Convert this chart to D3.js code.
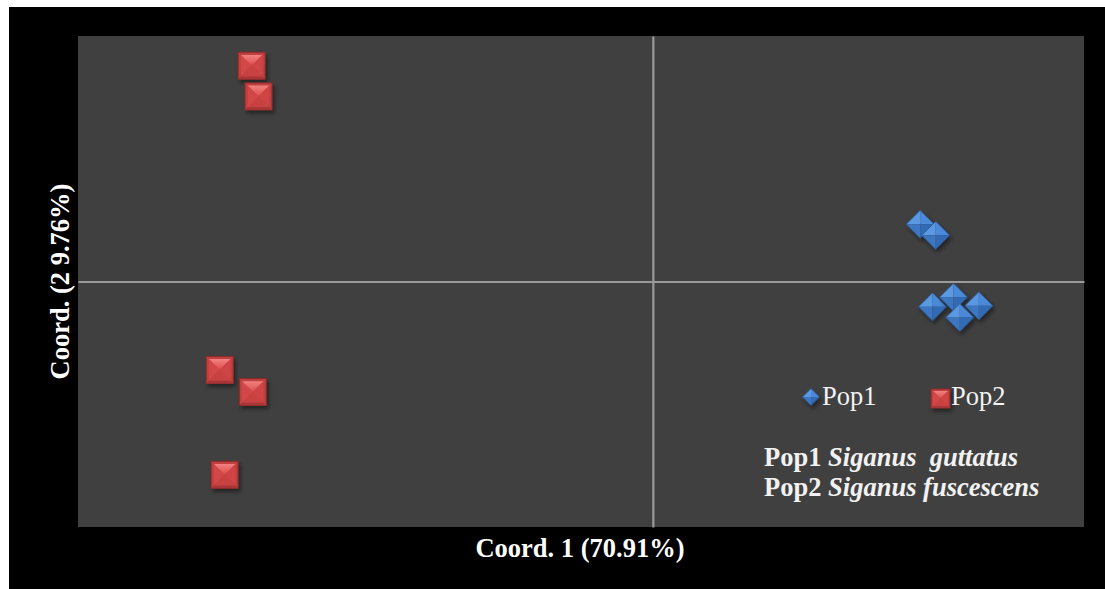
<!DOCTYPE html>
<html>
<head>
<meta charset="utf-8">
<script src="https://cdn.jsdelivr.net/npm/d3@7"></script>
<style>
  html, body { margin: 0; padding: 0; background: #ffffff; }
  svg { display: block; }
  text { font-family: "Liberation Serif", "Times New Roman", serif; }
</style>
</head>
<body>
<svg id="chart" width="1105" height="589"></svg>
<script>
// PCoA coordinates (axis 1, axis 2)
const pop1X = [0.930, 0.984, 0.973, 1.046, 1.134, 1.068];
const pop1Y = [0.233, 0.188, -0.103, -0.064, -0.099, -0.147];
const pop2X = [-1.396, -1.372, -1.507, -1.392, -1.490];
const pop2Y = [0.879, 0.754, -0.360, -0.450, -0.787];
const seriesNames = ["Pop1", "Pop2"];
const speciesNames = ["Siganus  guttatus", "Siganus fuscescens"];
const xTitle = "Coord. 1 (70.91%)";
const yTitle = "Coord. (2 9.76%)";
const xDomain = [-2, 1.5];
const yDomain = [-1, 1];

const svg = d3.select("#chart");
const W = 1105, H = 589;
const plot = { left: 78, top: 36, right: 1084, bottom: 527 };
const FS = 26.5;

// frame
svg.append("rect").attr("x", 0).attr("y", 0).attr("width", W).attr("height", H).attr("fill", "#ffffff");
svg.append("rect").attr("x", 9).attr("y", 7).attr("width", W - 9).attr("height", H - 7).attr("fill", "#000000");
svg.append("rect").attr("x", plot.left).attr("y", plot.top)
  .attr("width", plot.right - plot.left).attr("height", plot.bottom - plot.top).attr("fill", "#404040");

const x = d3.scaleLinear().domain(xDomain).range([plot.left, plot.right]);
const y = d3.scaleLinear().domain(yDomain).range([plot.bottom, plot.top]);

// shadow for markers
const defs = svg.append("defs");
const f = defs.append("filter").attr("id", "shadow").attr("x", "-50%").attr("y", "-50%").attr("width", "200%").attr("height", "200%");
f.append("feDropShadow").attr("dx", 2).attr("dy", 3).attr("stdDeviation", 2)
  .attr("flood-color", "#000").attr("flood-opacity", 0.45);

const gTop = defs.append("linearGradient").attr("id", "redTop").attr("x1", 0).attr("y1", 0).attr("x2", 0).attr("y2", 1);
gTop.append("stop").attr("offset", "0%").attr("stop-color", "#f28280");
gTop.append("stop").attr("offset", "100%").attr("stop-color", "#db4c4c");

// axes through the origin
const axisG = svg.append("g");
const yAxis = d3.axisLeft(y).tickValues([]).tickSizeOuter(0);
const xAxis = d3.axisBottom(x).tickValues([]).tickSizeOuter(0);
axisG.append("g").attr("transform", `translate(0,${y(0)})`).call(xAxis)
  .select(".domain").attr("stroke", "#9a9a9a").attr("stroke-width", 2.2);
axisG.append("g").attr("transform", `translate(${x(0)},0)`).call(yAxis)
  .select(".domain").attr("stroke", "#9a9a9a").attr("stroke-width", 2.2);

// beveled square marker
function drawSquare(g, cx, cy, s) {
  const h = s / 2, b = Math.max(2, s * 0.1);
  const m = g.append("g").attr("transform", `translate(${cx},${cy})`).attr("filter", "url(#shadow)");
  m.append("rect").attr("x", -h).attr("y", -h).attr("width", s).attr("height", s)
    .attr("fill", "#c04040").attr("stroke", "#8a2a2a").attr("stroke-width", 1);
  const i = h - b;
  m.append("path").attr("d", `M${-i},${-i}L${i},${-i}L0,0Z`).attr("fill", "url(#redTop)");
  m.append("path").attr("d", `M${-i},${-i}L0,0L${-i},${i}Z`).attr("fill", "#d24646");
  m.append("path").attr("d", `M${i},${-i}L0,0L${i},${i}Z`).attr("fill", "#cf4444");
  m.append("path").attr("d", `M${-i},${i}L0,0L${i},${i}Z`).attr("fill", "#c84242");
  // lower rim shade
  m.append("path").attr("d", `M${-h},${h}L${h},${h}L${i},${i}L${-i},${i}Z`).attr("fill", "#a83434");
}

// beveled diamond marker
function drawDiamond(g, cx, cy, s) {
  const h = s / 2;
  const m = g.append("g").attr("transform", `translate(${cx},${cy})`).attr("filter", "url(#shadow)");
  m.append("path").attr("d", `M0,${-h}L${-h},0L0,0Z`).attr("fill", "#5a98e2");
  m.append("path").attr("d", `M0,${-h}L${h},0L0,0Z`).attr("fill", "#4c8ad8");
  m.append("path").attr("d", `M${-h},0L0,${h}L0,0Z`).attr("fill", "#3e77c2");
  m.append("path").attr("d", `M${h},0L0,${h}L0,0Z`).attr("fill", "#336bb4");
  m.append("path").attr("d", `M0,${-h}L${h},0L0,${h}L${-h},0Z`)
    .attr("fill", "none").attr("stroke", "#2a5590").attr("stroke-width", 0.8);
}

const marks = svg.append("g");
pop2X.forEach((v, k) => drawSquare(marks, x(v), y(pop2Y[k]), 27));
pop1X.forEach((v, k) => drawDiamond(marks, x(v), y(pop1Y[k]), 28));

// legend
const leg = svg.append("g");
drawDiamond(leg, 811, 397, 17);
leg.append("text").attr("x", 822).attr("y", 405).attr("fill", "#f2f2f2")
  .attr("font-size", FS).text(seriesNames[0]);
drawSquare(leg, 940.5, 398.5, 19);
leg.append("text").attr("x", 951).attr("y", 405).attr("fill", "#f2f2f2")
  .attr("font-size", FS).text(seriesNames[1]);

// species key
const key = svg.append("g");
[466, 496].forEach((by, k) => {
  const t = key.append("text").attr("x", 764).attr("y", by).attr("fill", "#f2f2f2")
    .attr("font-size", FS).attr("font-weight", "bold").style("white-space", "pre");
  t.append("tspan").text(seriesNames[k] + " ");
  t.append("tspan").attr("font-style", "italic").text(speciesNames[k]);
});

// axis titles
svg.append("text").attr("x", (476 + 684) / 2).attr("y", 557).attr("text-anchor", "middle")
  .attr("fill", "#ffffff").attr("font-size", FS).attr("font-weight", "bold").text(xTitle);
svg.append("text").attr("transform", `translate(69,${(180 + 383) / 2}) rotate(-90)`)
  .attr("text-anchor", "middle").attr("fill", "#ffffff").attr("font-size", FS)
  .attr("font-weight", "bold").text(yTitle);
</script>
</body>
</html>
